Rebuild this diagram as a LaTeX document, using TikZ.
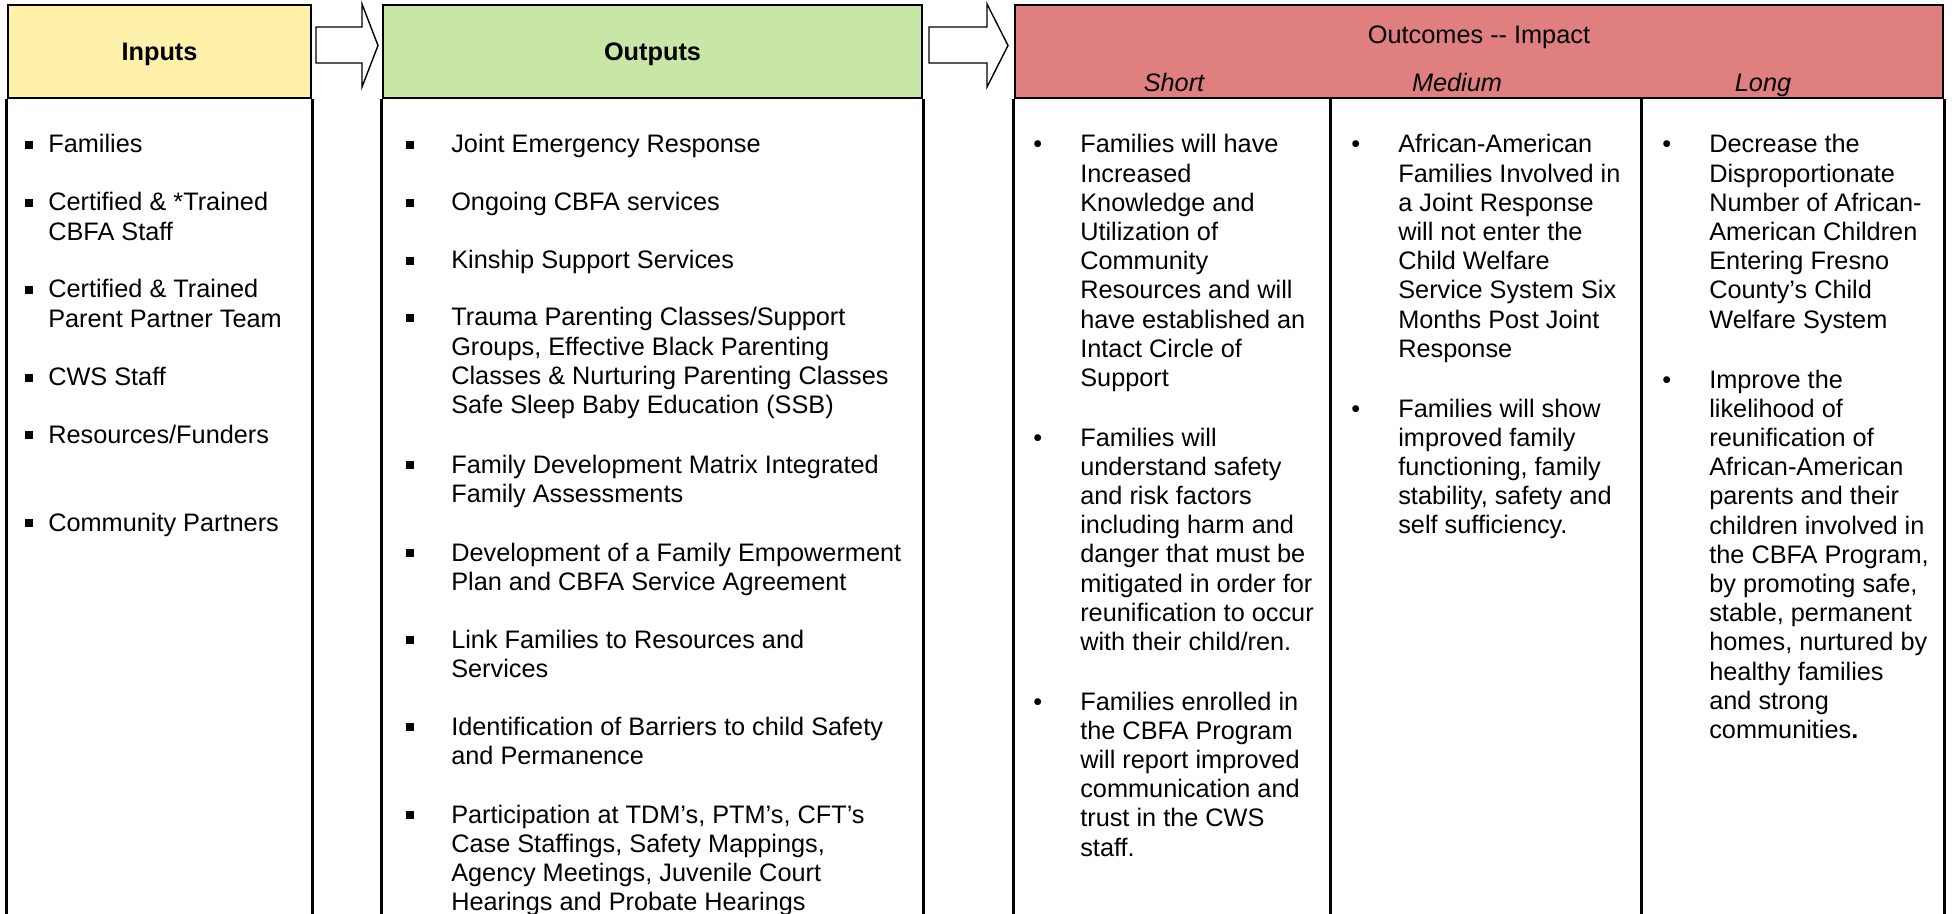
\documentclass[tikz,border=0pt]{standalone}
\usepackage{fontspec}
\setmainfont{Liberation Sans}
\usetikzlibrary{positioning}
\definecolor{inyellow}{RGB}{255,240,170}
\definecolor{outgreen}{RGB}{200,230,166}
\definecolor{impred}{RGB}{223,127,127}
\newcommand{\sqb}[1]{\llap{\makebox[#1][l]{\rule[2.2pt]{3.8pt}{4pt}}}}
\newcommand{\rdb}[1]{\llap{\makebox[#1][l]{\textbullet}}}
\newcommand{\lines}[1]{\begin{tabular}[t]{@{}l@{}}#1\end{tabular}}

\begin{document}
\begin{tikzpicture}[x=0.5pt,y=-0.5pt,line width=1.3pt,
	every node/.append style={font=\fontsize{12.65}{14.6}\selectfont},
	hdr/.style={draw,line width=1.3pt,minimum height=46.5pt,inner sep=0pt,text height=9pt,text depth=0pt},
	item/.style={anchor=base west,inner sep=0pt},
	sub/.style={anchor=base,inner sep=0pt,font=\fontsize{12.65}{14.6}\selectfont\itshape},
	blockarr/.style={draw,fill=white,line width=0.7pt,line join=miter}]
	\useasboundingbox (0,0) rectangle (1952,914);
	\coordinate (bottom) at (0,914);

	\node[hdr,fill=inyellow,minimum width=151.5pt] (inputs) at (159.5,51.5) {\textbf{Inputs}};
	\node[hdr,fill=outgreen,minimum width=269.5pt] (outputs) at (652.5,51.5) {\textbf{Outputs}};
	\node[hdr,fill=impred,minimum width=464pt] (impact) at (1479,51.5) {};
	\node[anchor=base,inner sep=0pt] (impacttitle) at (1479,44) {Outcomes {-}{-} Impact};
	\node[sub] (short) at (1174,92) {Short};
	\node[sub] (medium) at (1457,92) {Medium};
	\node[sub] (long) at (1763,92) {Long};

	\draw[blockarr] (316,27) -- (362,27) -- (362,4) -- (378,45.5) -- (362,87) -- (362,63) -- (316,63) -- cycle;
	\draw[blockarr] (929,27) -- (987,27) -- (987,4) -- (1008,45.5) -- (987,87) -- (987,63) -- (929,63) -- cycle;

	\foreach \n in {inputs,outputs,impact} {
		\draw (\n.south west) -- (\n.south west |- bottom);
		\draw (\n.south east) -- (\n.south east |- bottom);
	}
	\draw (impact.south west) ++(317,0) coordinate (shortend) -- (shortend |- bottom);
	\draw (impact.south west) ++(628,0) coordinate (mediumend) -- (mediumend |- bottom);

	\node[item] (families) at (47,153) {\lines{\sqb{11.5pt}Families}};
	\node[item] (cbfastaff) at (47,211) {\lines{\sqb{11.5pt}Certified \& *Trained\\CBFA Staff}};
	\node[item] (parentteam) at (47,298) {\lines{\sqb{11.5pt}Certified \& Trained\\Parent Partner Team}};
	\node[item] (cwsstaff) at (47,386) {\lines{\sqb{11.5pt}CWS Staff}};
	\node[item] (funders) at (47,443) {\lines{\sqb{11.5pt}Resources/Funders}};
	\node[item] (partners) at (47,531) {\lines{\sqb{11.5pt}Community Partners}};

	\node[item] (joint) at (450,153) {\lines{\sqb{22.5pt}Joint Emergency Response}};
	\node[item] (ongoing) at (450,211) {\lines{\sqb{22.5pt}Ongoing CBFA services}};
	\node[item] (kinship) at (450,269) {\lines{\sqb{22.5pt}Kinship Support Services}};
	\node[item] (trauma) at (450,326) {\lines{\sqb{22.5pt}Trauma Parenting Classes/Support\\Groups, Effective Black Parenting\\Classes \& Nurturing Parenting Classes\\Safe Sleep Baby Education (SSB)}};
	\node[item] (matrix) at (450,473) {\lines{\sqb{22.5pt}Family Development Matrix Integrated\\Family Assessments}};
	\node[item] (plan) at (450,561) {\lines{\sqb{22.5pt}Development of a Family Empowerment\\Plan and CBFA Service Agreement}};
	\node[item] (link) at (450,648) {\lines{\sqb{22.5pt}Link Families to Resources and\\Services}};
	\node[item] (barriers) at (450,735) {\lines{\sqb{22.5pt}Identification of Barriers to child Safety\\and Permanence}};
	\node[item] (meetings) at (450,823) {\lines{\sqb{22.5pt}Participation at TDM’s, PTM’s, CFT’s\\Case Staffings, Safety Mappings,\\Agency Meetings, Juvenile Court\\Hearings and Probate Hearings}};

	\node[item] (knowledge) at (1079,153) {\lines{\rdb{23.5pt}Families will have\\Increased\\Knowledge and\\Utilization of\\Community\\Resources and will\\have established an\\Intact Circle of\\Support}};
	\node[item] (safety) at (1079,446) {\lines{\rdb{23.5pt}Families will\\understand safety\\and risk factors\\including harm and\\danger that must be\\mitigated in order for\\reunification to occur\\with their child/ren.}};
	\node[item] (trust) at (1079,710) {\lines{\rdb{23.5pt}Families enrolled in\\the CBFA Program\\will report improved\\communication and\\trust in the CWS\\staff.}};

	\node[item] (noentry) at (1397,153) {\lines{\rdb{23.5pt}African-American\\Families Involved in\\a Joint Response\\will not enter the\\Child Welfare\\Service System Six\\Months Post Joint\\Response}};
	\node[item] (stability) at (1397,417) {\lines{\rdb{23.5pt}Families will show\\improved family\\functioning, family\\stability, safety and\\self sufficiency.}};

	\node[item] (decrease) at (1708,153) {\lines{\rdb{23.5pt}Decrease the\\Disproportionate\\Number of African-\\American Children\\Entering Fresno\\County’s Child\\Welfare System}};
	\node[item] (reunify) at (1708,388) {\lines{\rdb{23.5pt}Improve the\\likelihood of\\reunification of\\African-American\\parents and their\\children involved in\\the CBFA Program,\\by promoting safe,\\stable, permanent\\homes, nurtured by\\healthy families\\and strong\\communities\textbf{.}}};
\end{tikzpicture}
\end{document}
